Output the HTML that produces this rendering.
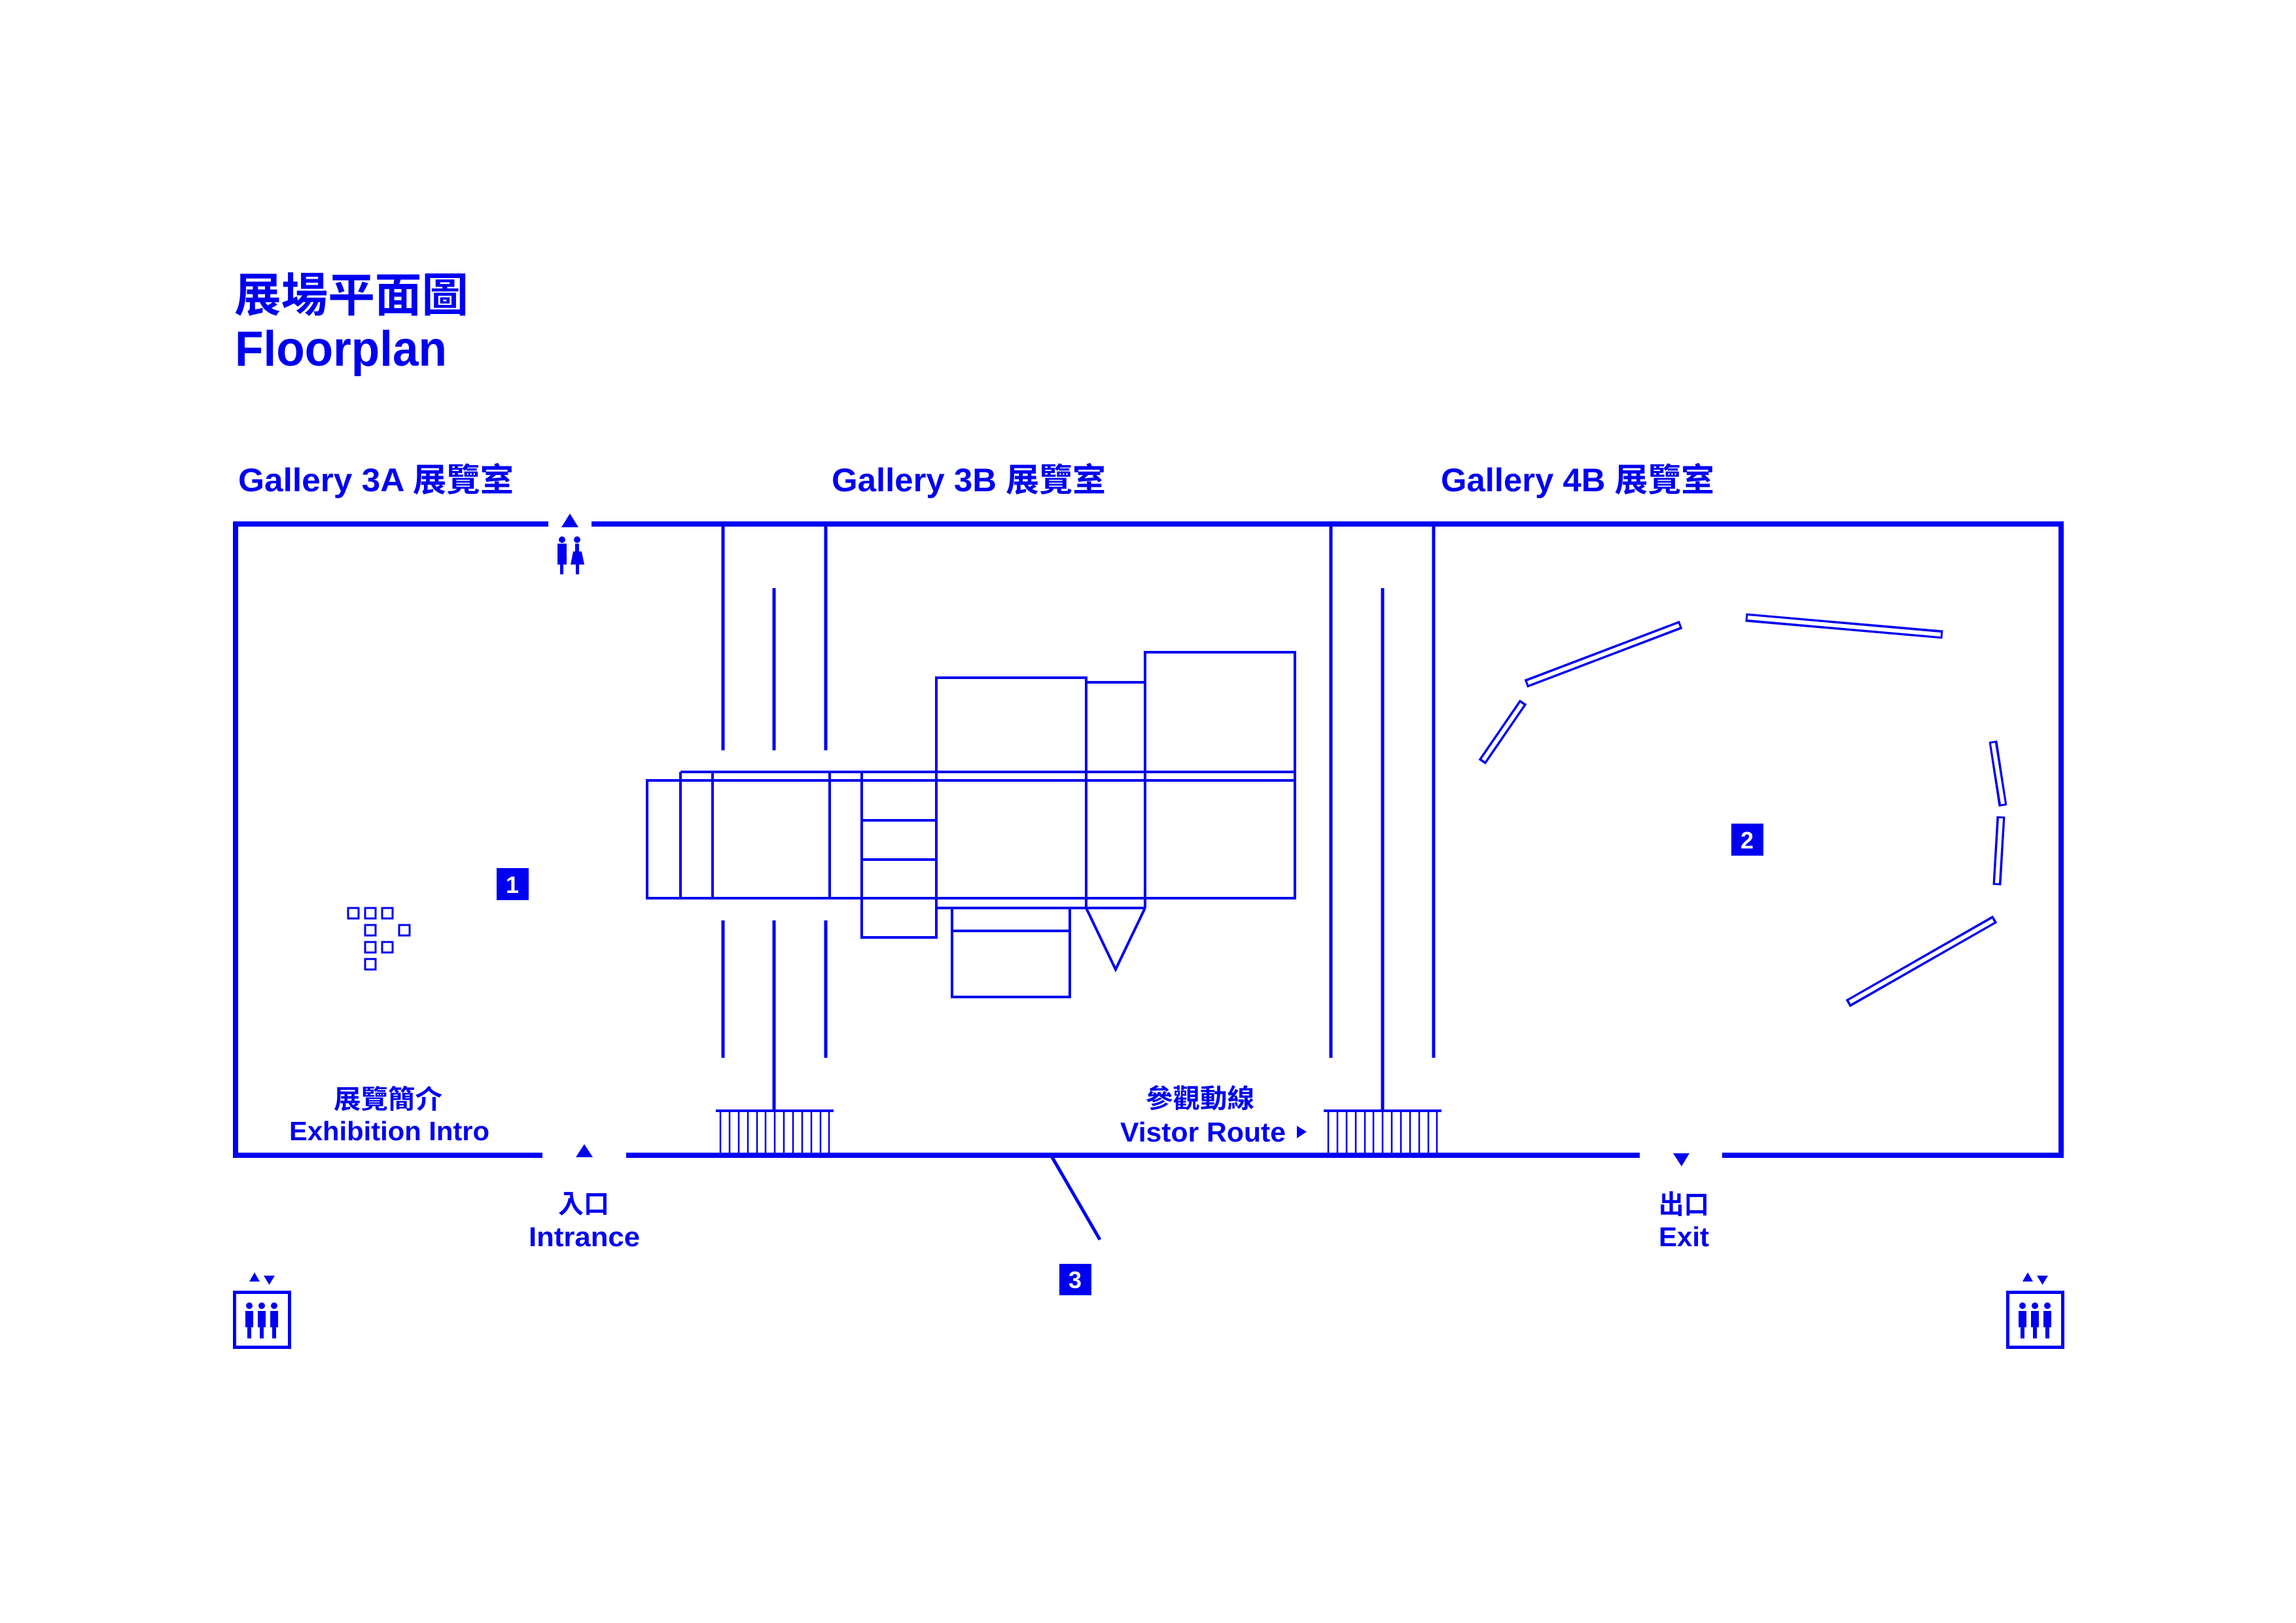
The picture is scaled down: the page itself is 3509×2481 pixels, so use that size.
<!DOCTYPE html>
<html><head><meta charset="utf-8">
<style>
html,body{margin:0;padding:0;background:#fff;}
svg{display:block;}
text{font-family:"Liberation Sans","Noto Sans CJK TC",sans-serif;font-weight:bold;fill:#0000f0;}
.cjk{font-family:"Noto Sans CJK TC","Liberation Sans",sans-serif;}
</style></head>
<body>
<svg width="3509" height="2481" viewBox="0 0 3509 2481" xmlns="http://www.w3.org/2000/svg">
<rect width="3509" height="2481" fill="#fff"/>
<g fill="none" stroke="#0000f0">
<g stroke-width="8">
<polyline points="838,801 360,801 360,1766 829,1766"/>
<polyline points="904,801 3150,801 3150,1766 2632,1766"/>
<line x1="957" y1="1766" x2="2506" y2="1766"/>
</g>
<g stroke-width="5">
<line x1="1105" y1="801" x2="1105" y2="1147"/><line x1="1105" y1="1407" x2="1105" y2="1617"/>
<line x1="1262" y1="801" x2="1262" y2="1147"/><line x1="1262" y1="1407" x2="1262" y2="1617"/>
<line x1="1183" y1="899" x2="1183" y2="1147"/><line x1="1183" y1="1407" x2="1183" y2="1698"/>
<line x1="2034" y1="801" x2="2034" y2="1617"/>
<line x1="2191" y1="801" x2="2191" y2="1617"/>
<line x1="2113" y1="899" x2="2113" y2="1698"/>
<line x1="1608" y1="1769" x2="1681" y2="1895"/>
</g>
<g stroke-width="4"><line x1="1094" y1="1698" x2="1274" y2="1698"/><line x1="2023" y1="1698" x2="2203" y2="1698"/></g>
<g stroke-width="2.5">
<path d="M1101 1698V1766M1115 1698V1766M1129 1698V1766M1143 1698V1766M1157 1698V1766M1170 1698V1766M1184 1698V1766M1198 1698V1766M1212 1698V1766M1226 1698V1766M1240 1698V1766M1254 1698V1766M1267 1698V1766"/>
<path d="M2030 1698V1766M2044 1698V1766M2058 1698V1766M2072 1698V1766M2086 1698V1766M2099 1698V1766M2113 1698V1766M2127 1698V1766M2141 1698V1766M2155 1698V1766M2169 1698V1766M2183 1698V1766M2196 1698V1766"/>
</g>
<g stroke-width="4">
<rect x="989" y="1193" width="990" height="180"/>
<line x1="1040" y1="1180" x2="1979" y2="1180"/>
<line x1="1979" y1="1180" x2="1979" y2="1193"/>
<line x1="1040" y1="1180" x2="1040" y2="1373"/>
<line x1="1089" y1="1180" x2="1089" y2="1373"/>
<line x1="1268" y1="1180" x2="1268" y2="1373"/>
<polyline points="1317,1180 1317,1433 1431,1433"/>
<line x1="1317" y1="1254" x2="1431" y2="1254"/>
<line x1="1317" y1="1314" x2="1431" y2="1314"/>
<polyline points="1431,1435 1431,1036 1660,1036 1660,1388"/>
<line x1="1660" y1="1043" x2="1750" y2="1043"/>
<polyline points="1750,1388 1750,997 1979,997 1979,1180"/>
<line x1="1431" y1="1388" x2="1750" y2="1388"/>
<polyline points="1660,1388 1705,1482 1750,1388"/>
<rect x="1455" y="1388" width="180" height="136"/>
<line x1="1455" y1="1423" x2="1635" y2="1423"/>
</g>
<g stroke-width="3">
<rect x="532" y="1388" width="16" height="16"/><rect x="558" y="1388" width="16" height="16"/><rect x="584" y="1388" width="16" height="16"/>
<rect x="558" y="1414" width="16" height="16"/><rect x="610" y="1414" width="16" height="16"/>
<rect x="558" y="1440" width="16" height="16"/><rect x="584" y="1440" width="16" height="16"/>
<rect x="558" y="1466" width="16" height="16"/>
</g>
<g stroke-linecap="butt">
<g stroke-width="13">
<line x1="2265" y1="1165" x2="2328" y2="1073"/>
<line x1="2332" y1="1045" x2="2569" y2="955"/>
<line x1="2668" y1="944" x2="2969" y2="970"/>
<line x1="3046" y1="1133" x2="3061" y2="1232"/>
<line x1="3058" y1="1248" x2="3052" y2="1353"/>
<line x1="3049" y1="1405" x2="2824" y2="1534"/>
</g>
<g stroke-width="6" stroke="#fff">
<line x1="2267" y1="1162" x2="2326" y2="1076"/>
<line x1="2335" y1="1044" x2="2566" y2="956"/>
<line x1="2671" y1="944" x2="2966" y2="970"/>
<line x1="3046" y1="1136" x2="3061" y2="1229"/>
<line x1="3058" y1="1251" x2="3052" y2="1350"/>
<line x1="3046" y1="1407" x2="2827" y2="1532"/>
</g>
</g>
<rect x="358.5" y="1975.5" width="84" height="84" stroke-width="5"/>
<rect x="3068.5" y="1975.5" width="84" height="84" stroke-width="5"/>
</g>
<g fill="#0000f0">
<polygon points="871,785 858,806 884,806"/>
<polygon points="893,1749 880,1769 906,1769"/>
<polygon points="2557,1763 2582,1763 2570,1783"/>
<polygon points="1982,1721 1982,1740 1997,1730"/>
<circle cx="859" cy="825" r="5"/><rect x="852" y="831" width="14" height="32"/><rect x="856" y="860" width="5" height="18"/>
<circle cx="882" cy="825" r="5"/><rect x="879" y="831" width="6" height="14"/><polygon points="876,843 889,843 893,863 872,863"/><rect x="880" y="860" width="5" height="18"/>
<rect x="759" y="1327" width="49" height="49"/>
<rect x="2646" y="1259" width="49" height="49"/>
<rect x="1619" y="1932" width="49" height="48"/>
</g>
<g id="el" fill="#0000f0">
<polygon points="389,1945 381,1959 397,1959"/>
<polygon points="403,1950 420,1950 411.5,1964"/>
<circle cx="381" cy="1996" r="5"/><circle cx="400" cy="1996" r="5"/><circle cx="419" cy="1996" r="5"/>
<rect x="375" y="2004" width="12" height="25"/><rect x="394" y="2004" width="12" height="25"/><rect x="413" y="2004" width="12" height="25"/>
<rect x="378" y="2028" width="6" height="18"/><rect x="397" y="2028" width="6" height="18"/><rect x="416" y="2028" width="6" height="18"/>
</g>
<use href="#el" transform="translate(2710,0)"/>
<text class="cjk" x="358" y="476" font-size="71" textLength="358" lengthAdjust="spacingAndGlyphs">展場平面圖</text>
<text x="359" y="559" font-size="76" textLength="324" lengthAdjust="spacingAndGlyphs">Floorplan</text>
<text x="364" y="751" font-size="50" textLength="421" lengthAdjust="spacingAndGlyphs">Gallery 3A 展覽室</text>
<text x="1271" y="751" font-size="50" textLength="419" lengthAdjust="spacingAndGlyphs">Gallery 3B 展覽室</text>
<text x="2202" y="751" font-size="50" textLength="418" lengthAdjust="spacingAndGlyphs">Gallery 4B 展覽室</text>
<text class="cjk" x="510" y="1694" font-size="40" textLength="166" lengthAdjust="spacingAndGlyphs">展覽簡介</text>
<text x="442" y="1743" font-size="41" textLength="306" lengthAdjust="spacingAndGlyphs">Exhibition Intro</text>
<text class="cjk" x="853" y="1854" font-size="40" textLength="78" lengthAdjust="spacingAndGlyphs">入口</text>
<text x="808" y="1905" font-size="42" textLength="170" lengthAdjust="spacingAndGlyphs">Intrance</text>
<text class="cjk" x="1751" y="1693" font-size="40" textLength="166" lengthAdjust="spacingAndGlyphs">參觀動線</text>
<text x="1712" y="1745" font-size="42" textLength="253" lengthAdjust="spacingAndGlyphs">Vistor Route</text>
<text class="cjk" x="2535" y="1855" font-size="40" textLength="77" lengthAdjust="spacingAndGlyphs">出口</text>
<text x="2535" y="1905" font-size="42" textLength="77" lengthAdjust="spacingAndGlyphs">Exit</text>
<text x="783" y="1365" font-size="36" text-anchor="middle" style="fill:#fff">1</text>
<text x="2670" y="1297" font-size="36" text-anchor="middle" style="fill:#fff">2</text>
<text x="1643" y="1969" font-size="36" text-anchor="middle" style="fill:#fff">3</text>
</svg>
</body></html>
